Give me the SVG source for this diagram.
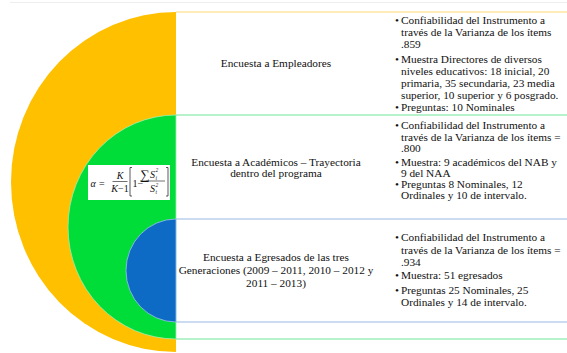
<svg xmlns="http://www.w3.org/2000/svg" width="567" height="353" viewBox="0 0 567 353">
<style>
text{font-family:"Liberation Serif","Times New Roman",serif;font-size:11.3px;fill:#111111}
.c{text-anchor:middle}
.f{font-size:10px}
.fi{font-size:10px;font-style:italic}
.fs{font-size:5.5px;font-style:italic}
.ln{stroke-width:1.2;fill:none}
</style>
<rect width="567" height="353" fill="#ffffff"/>
<line x1="10" y1="2.5" x2="567" y2="2.5" stroke="#eeeeee" stroke-width="1"/>
<g id="shapes">
<path id="orange" d="M176,12 A165,170 0 0 0 176,352 Z" fill="#FFC000"/>
<path id="green" d="M176,115 A108,112 0 0 0 176,339 Z" fill="#00DD38" stroke="#9DF0B0" stroke-width="0.8"/>
<path id="blue" d="M176,219 A50,51.5 0 0 0 176,322 Z" fill="#0E6BC5" stroke="#9CC2EC" stroke-width="0.8"/>
</g>
<g id="connectors">
<line class="ln" x1="176" y1="12" x2="567" y2="12" stroke="#FFD970"/>
<line class="ln" x1="176" y1="115" x2="567" y2="115" stroke="#6EE89A"/>
<line class="ln" x1="176" y1="219" x2="567" y2="219" stroke="#97B9E6"/>
<line class="ln" x1="176" y1="322" x2="567" y2="322" stroke="#97B9E6"/>
<line class="ln" x1="176" y1="339" x2="567" y2="339" stroke="#6EE89A"/>
</g>
<g id="formula">
<rect x="88" y="165" width="82" height="35" fill="#ffffff"/>
<text class="fi" x="90.5" y="186.5">α</text>
<text class="f" x="99" y="186.5">=</text>
<text class="fi c" x="120" y="178.5">K</text>
<line x1="112.5" y1="181.5" x2="127.5" y2="181.5" stroke="#111111" stroke-width="0.6"/>
<text class="c f" x="120" y="191.5"><tspan font-style="italic">K</tspan>−1</text>
<path d="M132,167.5 H130 V196 H132" stroke="#111111" stroke-width="0.7" fill="none"/>
<text class="f" x="132.5" y="186.5">1−</text>
<text x="140.5" y="178.5" style="font-size:13px">∑</text>
<text class="fi" x="150" y="177.5">S</text>
<text class="fs" x="155.5" y="172">2</text>
<text class="fs" x="155.5" y="179.5">i</text>
<line x1="140" y1="181" x2="165" y2="181" stroke="#111111" stroke-width="0.6"/>
<text class="fi" x="150" y="192">S</text>
<text class="fs" x="155.5" y="187">2</text>
<text class="fs" x="155.5" y="194">t</text>
<path d="M166,167.5 H168 V196 H166" stroke="#111111" stroke-width="0.7" fill="none"/>
</g>
<g id="node-empleadores">
<text class="c" x="276" y="67">Encuesta a Empleadores</text>
<text x="395" y="24">•</text>
<text x="401" y="24">Confiabilidad del Instrumento a</text>
<text x="401" y="36">través de la Varianza de los ítems</text>
<text x="401" y="47.5">.859</text>
<text x="395" y="63">•</text>
<text x="401" y="63">Muestra Directores de diversos</text>
<text x="401" y="75">niveles educativos: 18 inicial, 20</text>
<text x="401" y="86.5">primaria, 35 secundaria, 23 media</text>
<text x="401" y="98.5">superior, 10 superior y 6 posgrado.</text>
<text x="395" y="111">•</text>
<text x="401" y="111">Preguntas: 10 Nominales</text>
</g>
<g id="node-academicos">
<text class="c" x="276" y="165.5">Encuesta a Académicos – Trayectoria</text>
<text class="c" x="276" y="177">dentro del programa</text>
<text x="395" y="129">•</text>
<text x="401" y="129">Confiabilidad del Instrumento a</text>
<text x="401" y="140.5">través de la Varianza de los ítems =</text>
<text x="401" y="151.5">.800</text>
<text x="395" y="165.5">•</text>
<text x="401" y="165.5">Muestra: 9 académicos del NAB y</text>
<text x="401" y="176.5">9 del NAA</text>
<text x="395" y="188">•</text>
<text x="401" y="188">Preguntas 8 Nominales, 12</text>
<text x="401" y="199">Ordinales y 10 de intervalo.</text>
</g>
<g id="node-egresados">
<text class="c" x="276" y="260.5">Encuesta a Egresados de las tres</text>
<text class="c" x="276" y="274">Generaciones (2009 – 2011, 2010 – 2012 y</text>
<text class="c" x="276" y="286.5">2011 – 2013)</text>
<text x="395" y="240.5">•</text>
<text x="401" y="240.5">Confiabilidad del Instrumento a</text>
<text x="401" y="253.5">través de la Varianza de los ítems =</text>
<text x="401" y="265.5">.934</text>
<text x="395" y="279">•</text>
<text x="401" y="279">Muestra: 51 egresados</text>
<text x="395" y="293.5">•</text>
<text x="401" y="293.5">Preguntas 25 Nominales, 25</text>
<text x="401" y="305.5">Ordinales y 14 de intervalo.</text>
</g>
</svg>
